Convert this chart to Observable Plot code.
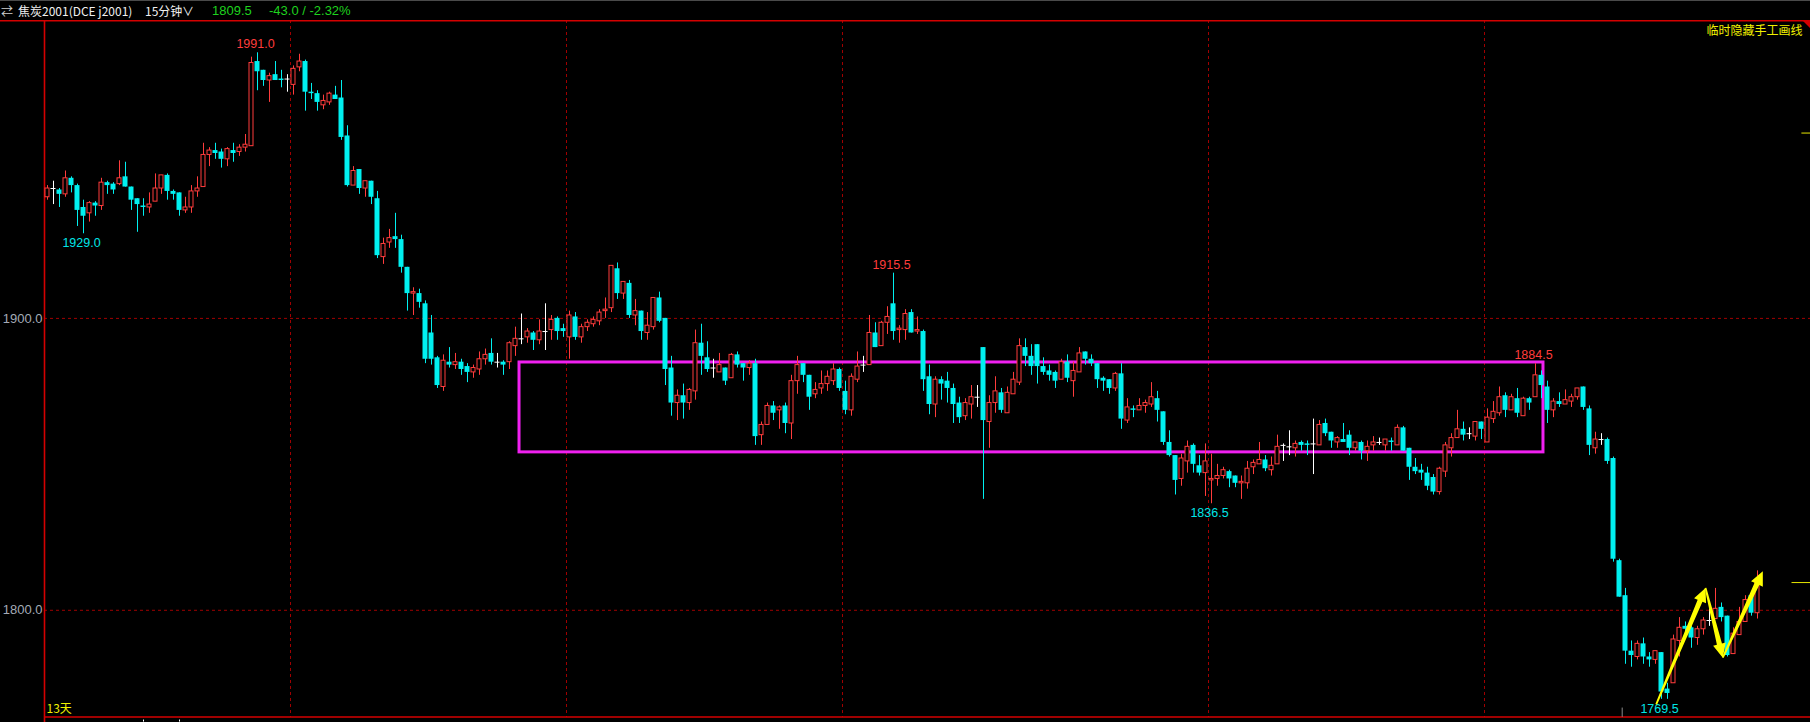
<!DOCTYPE html>
<html><head><meta charset="utf-8">
<script src="https://cdn.jsdelivr.net/npm/d3@7"></script>
<script src="https://cdn.jsdelivr.net/npm/@observablehq/plot@0.6"></script>
<style>
html,body{margin:0;padding:0;background:#000;width:1810px;height:722px;overflow:hidden}
#hdr{position:relative;height:20px;background:#000;box-sizing:border-box;border-top:1px solid #4a4a4a}
#hdr span{position:absolute;top:1px;line-height:16px;white-space:nowrap;color:#f0f0f0;font:12px "Noto Sans CJK SC",sans-serif}
#hdr span.n{font:13px "Liberation Sans",Arial,sans-serif;color:#1ed21e;top:2px}
#chart svg{display:block}
</style></head><body>
<div id="hdr">
<span style="left:1px;color:#cfcfcf">⇄</span>
<span style="left:18px">焦炭2001(DCE j2001)</span>
<span style="left:145px">15分钟</span>
<span style="left:182px">∨</span>
<span class="n" id="last" style="left:212px"></span>
<span class="n" style="left:269px">-43.0 / -2.32%</span>
</div>
<div id="chart"></div>
<script>
// ---- data (15-minute OHLC bars, 焦炭2001) ----
const open = [1941.5,1944.5,1944,1942.5,1948,1945.5,1938,1936,1939.5,1938.5,1946.5,1946,1946,1948.5,1945,1941,1938.5,1938,1940,1944.5,1949,1943.5,1943,1937,1938,1943.5,1945,1956,1957.5,1957,1954.5,1957.5,1957,1958.5,1959,1988,1985,1981.5,1983.5,1982,1982,1980,1986,1988,1977.5,1977,1973,1974,1976.5,1975.5,1962.5,1945.5,1951,1944.5,1947,1941,1921,1926,1928,1927,1917.5,1908.5,1908.5,1905,1895,1886.5,1876.5,1885,1884,1885,1883.5,1881.5,1882.5,1886,1888,1885,1885,1885,1890.5,1893,1893.5,1895,1892.5,1895.5,1896,1900,1896.5,1893.5,1900.5,1893.5,1897,1898,1899,1902.5,1903.5,1917,1908.5,1912,1901,1902.5,1895,1897,1907,1900,1883,1871,1873.5,1871,1875,1891.5,1886.5,1883,1881.5,1883,1879.5,1887.5,1884.5,1883,1884.5,1860,1863.5,1870,1868.5,1870,1864,1878.5,1884.5,1880.5,1874,1876,1877.5,1878.5,1882.5,1875,1868.5,1879,1884,1884,1895,1890.5,1898.5,1905,1896,1896,1902,1895.5,1895.5,1880,1870.5,1879,1878.5,1876,1871,1866.5,1870.5,1873,1890,1864.5,1871,1874.5,1867.5,1874,1878,1890,1887,1891,1883.5,1882,1881.5,1879,1885,1878.5,1881.5,1888.5,1886,1884.5,1879.5,1879,1876,1881,1865,1869,1868.5,1870,1870.5,1872.5,1868,1857.5,1853,1845,1851,1856.5,1849.5,1847,1844.5,1845,1846,1847.5,1846,1843.5,1843.5,1849,1850,1851.5,1848,1850,1856.5,1856,1855.5,1857.5,1857,1857,1856.5,1864,1861,1857.5,1858.5,1860,1855.5,1857.5,1854.5,1856.5,1857.5,1856.5,1858,1856.5,1862.5,1855.5,1849,1848,1847,1845.5,1840.5,1847.5,1855.5,1859,1862,1860.5,1859.5,1864.5,1857.5,1865.5,1867.5,1873.5,1868.5,1872.5,1866.5,1872.5,1873,1880.5,1876.5,1868.5,1871.5,1870.5,1871.5,1873,1876.5,1869,1855.5,1858.5,1858.5,1852,1817,1805,1786,1784,1788.5,1784,1783,1785.5,1773,1775,1789.5,1794.5,1794,1790.5,1793.5,1796.5,1797,1801,1798,1785,1791.5,1796,1805,1799];
const high = [1945.5,1947,1944.5,1950.5,1948.5,1946,1940.5,1940,1940,1948,1947,1946.5,1954,1953.5,1945,1941,1941,1943,1949.5,1949,1949.5,1944,1943,1941.5,1945.5,1948.5,1960,1958.5,1960,1958,1958.5,1960,1959.5,1963,1989.5,1991,1985,1984,1988,1985,1983.5,1986.5,1990.5,1988.5,1980.5,1978,1976.5,1977.5,1979.5,1981.5,1966,1952,1951,1947,1947,1943.5,1927.5,1930.5,1936,1928.5,1917.5,1910.5,1910,1906,1901,1887,1887.5,1890,1888,1886,1884.5,1884,1888.5,1889.5,1893,1888,1885.5,1892,1897,1901.5,1896.5,1895.5,1899.5,1905,1901,1900.5,1898,1902.5,1902,1898,1899.5,1900.5,1903,1907,1918,1919,1912.5,1913,1906.5,1902.5,1902,1907,1909,1900,1887,1875.5,1877.5,1876,1896,1898,1892,1886,1888,1883,1888,1888.5,1884.5,1885.5,1886,1864.5,1871,1871.5,1870,1871,1880.5,1887,1884.5,1880.5,1878,1882,1882,1884.5,1883,1878.5,1881,1888.5,1887,1901,1898.5,1899,1904,1915.5,1897.5,1903,1903,1900.5,1896,1884,1880,1880,1881.5,1877.5,1873,1872.5,1877,1877,1890,1873.5,1880,1876,1876.5,1881.5,1893,1893,1891,1891,1886.5,1884,1882,1886,1887.5,1885,1890,1888.5,1887.5,1884.5,1880,1879,1881.5,1884.5,1872.5,1870,1872.5,1872,1878,1875,1868,1861.5,1853,1853.5,1858,1857,1853,1857,1853.5,1850,1849,1848,1846,1846,1851,1851.5,1857.5,1853,1852.5,1860,1857,1861.5,1858,1858,1858,1865.5,1865,1865.5,1861,1859.5,1864,1861.5,1857.5,1858,1858,1859.5,1859,1858.5,1859,1863.5,1863,1855.5,1852,1850,1849,1846.5,1849,1857.5,1860.5,1868.5,1864.5,1862.5,1864.5,1864.5,1869,1871.5,1876.5,1874.5,1874,1876,1873,1873,1884.5,1882,1878.5,1872.5,1874.5,1875.5,1874,1876,1876.5,1870,1861,1860.5,1859,1852.5,1817.5,1807.5,1789.5,1789.5,1790.5,1785.5,1786,1785.5,1775,1791.5,1797.5,1796,1794.5,1794.5,1797.5,1800.5,1807.5,1802.5,1798,1794,1801,1805,1806,1813.5];
const low = [1940.5,1939,1938,1941.5,1943,1931.5,1929,1933,1935,1937,1942.5,1942.5,1945.5,1945,1937,1929.5,1935,1936,1940,1942.5,1940.5,1940.5,1935,1936,1936,1941.5,1945,1952,1954.5,1951.5,1952,1953.5,1955.5,1957,1959,1978,1979.5,1974,1981.5,1979,1977.5,1976.5,1984.5,1971,1975,1971,1971.5,1973,1975,1961,1945,1945.5,1942.5,1941.5,1939,1920.5,1918.5,1924,1924,1915.5,1902.5,1901,1903.5,1884.5,1884,1876,1875,1883,1882.5,1880.5,1878,1879.5,1880.5,1884,1884,1883,1880.5,1882.5,1887,1891,1891.5,1889,1891,1889,1892.5,1892.5,1893.5,1886,1892.5,1891.5,1895.5,1897,1897.5,1900,1902,1906.5,1906.5,1900,1897.5,1892.5,1892.5,1896,1898.5,1877,1866.5,1865,1865.5,1868.5,1872,1880.5,1881.5,1879.5,1881.5,1877,1879.5,1883,1878.5,1880.5,1856.5,1856.5,1863.5,1865,1862,1860.5,1858.5,1874,1878,1868.5,1872.5,1874,1875,1877,1875,1867,1866.5,1878,1881.5,1884,1890,1890.5,1894.5,1892.5,1891.5,1892.5,1895,1894.5,1875,1867,1866,1872,1871,1864,1864,1865,1865.5,1869.5,1838,1855.5,1867.5,1867.5,1867.5,1874,1877,1883.5,1880.5,1877.5,1880.5,1878.5,1876,1879,1878,1873,1881.5,1884,1883.5,1876,1875,1874,1875,1862,1864,1866,1868.5,1867.5,1869.5,1864.5,1856.5,1852.5,1839.5,1842.5,1847,1847,1846,1839,1836.5,1842.5,1845,1842,1842,1838,1841.5,1846.5,1850,1847.5,1846,1850,1851,1853,1852.5,1854.5,1853,1846.5,1856.5,1859.5,1855.5,1855.5,1857.5,1853,1854.5,1851.5,1851,1854.5,1856.5,1854.5,1854.5,1856.5,1854.5,1844.5,1846.5,1844.5,1841,1839.5,1839.5,1845.5,1852.5,1859,1858,1858.5,1858,1858.5,1857.5,1864,1866.5,1866,1868.5,1866,1866.5,1868.5,1873,1872.5,1864,1866,1869.5,1870.5,1869.5,1872,1868.5,1853,1853.5,1856.5,1850,1816.5,1804.5,1781.5,1780.5,1783,1781.5,1780.5,1781.5,1769.5,1769.5,1775,1784,1791,1787,1788,1791.5,1794.5,1797,1796,1784,1785,1791.5,1796,1798,1797];
const close = [1944.5,1944.5,1942.5,1948,1945.5,1937,1935,1939.5,1938.5,1946.5,1945.5,1944,1948,1945,1940.5,1939,1938,1939,1944.5,1949,1943.5,1942.5,1937,1938,1943.5,1944.5,1956,1957.5,1956.5,1954.5,1958,1956.5,1958.5,1959.5,1987.5,1984.5,1981.5,1983,1981.5,1981.5,1982,1985.5,1988,1977.5,1977,1974,1974.5,1977,1975,1962,1945.5,1950.5,1944.5,1947,1941.5,1921.5,1925.5,1927.5,1927,1917.5,1908.5,1909,1905.5,1886,1886,1877,1885.5,1884,1885,1882.5,1881.5,1883,1886,1887.5,1885,1885,1884,1891.5,1893,1893,1895.5,1892.5,1895.5,1895.5,1899.5,1895.5,1895.5,1901,1893.5,1897,1898.5,1899.5,1902,1903,1918,1908.5,1912.5,1901,1902.5,1895.5,1897.5,1907,1899,1882.5,1871,1873.5,1871,1875.5,1891.5,1887,1882.5,1883,1884,1878.5,1887.5,1884,1883,1884.5,1859.5,1863.5,1870,1867.5,1869.5,1864,1878.5,1884,1880.5,1873,1875.5,1877.5,1880,1882.5,1876,1868.5,1880,1883.5,1884,1895,1890,1898.5,1900.5,1895.5,1896.5,1901.5,1895,1896,1879,1870.5,1879,1877.5,1876,1870.5,1866,1871,1873,1873,1865,1871,1875,1868.5,1874.5,1879,1890.5,1887,1883.5,1883.5,1881.5,1880.5,1878.5,1885,1879.5,1882,1888,1886,1884.5,1879,1878.5,1876,1881,1865.5,1869.5,1868.5,1870,1871,1873,1868.5,1857.5,1853,1844.5,1852,1856,1850,1847,1851,1845,1846,1848,1845,1843.5,1844,1848.5,1850.5,1851.5,1848.5,1849.5,1856,1856.5,1856,1857,1856.5,1856.5,1857,1863.5,1860.5,1858,1859,1857.5,1855.5,1857.5,1854.5,1856,1857.5,1857.5,1858.5,1857.5,1862.5,1854.5,1849,1847.5,1847,1842.5,1840.5,1848.5,1856.5,1859,1862,1860,1860.5,1864.5,1862,1866,1868,1873,1868.5,1873,1867.5,1872.5,1871,1880.5,1877,1868.5,1871.5,1870.5,1872,1873,1876,1869.5,1856.5,1858.5,1858.5,1851,1817.5,1804.5,1786,1784.5,1788.5,1784,1783,1786,1772,1771.5,1790,1794,1793.5,1790.5,1793.5,1796.5,1796.5,1800.5,1797.5,1784.5,1792,1796,1803.5,1799,1809.5];
const yTicks = [1800, 1900];
const dayBreaks = [40.5, 86.5, 132.5, 193.5, 239.5];     // bar positions of the dashed separators
const peakIdx   = [35, 6, 141, 248, 194, 269];            // labelled extremes
const peakKind  = ["high", "low", "high", "high", "low", "low"];
const boxBars   = [78.67, 249.33];                        // hand-drawn box, bar range
const boxPrices = [1854.1, 1884.9];                       // hand-drawn box, price range
const arrowFromBar   = [268.2, 276.42, 279.3];
const arrowFromPrice = [1767.6, 1807.5, 1783.6];
const arrowToBar     = [276.42, 279.3, 285.97];
const arrowToPrice   = [1807.5, 1783.6, 1813.2];
const rightMarkA = [1963.5];
const rightMarkB = [1809.5];
const markerBar = [262.45];
const timeTicks = [16, 22];

document.getElementById("last").textContent = close[close.length - 1].toFixed(1);

const UP = "#ff3c3c", DN = "#00f0f0", FLAT = "#ffffff";
const bars = open.map((o, i) => ({i, o, h: high[i], l: low[i], c: close[i],
  dir: close[i] > o ? 1 : close[i] < o ? -1 : 0}));
const colorOf = d => d.dir > 0 ? UP : d.dir < 0 ? DN : FLAT;
const ups = bars.filter(d => d.dir > 0), dns = bars.filter(d => d.dir < 0), flats = bars.filter(d => d.dir === 0);
const peaks = peakIdx.map((i, k) => ({i, kind: peakKind[k], v: peakKind[k] === "high" ? high[i] : low[i]}));
const peakHighs = peaks.filter(d => d.kind === "high"), peakLows = peaks.filter(d => d.kind === "low");
const arrows = arrowFromBar.map((x, k) => ({x1: x, y1: arrowFromPrice[k], x2: arrowToBar[k], y2: arrowToPrice[k]}));

const frameMark = (index, scales, values, dims) => {
  const {width, height, marginLeft, marginBottom} = dims;
  const g = d3.create("svg:g").attr("stroke", "#d40000").attr("stroke-width", 1.6);
  g.append("line").attr("x1", 0).attr("x2", width).attr("y1", 0.8).attr("y2", 0.8);
  g.append("line").attr("x1", marginLeft + 0.5).attr("x2", marginLeft + 0.5).attr("y1", 0).attr("y2", height);
  g.append("line").attr("x1", marginLeft).attr("x2", width).attr("y1", height - marginBottom).attr("y2", height - marginBottom);
  g.append("path").attr("stroke", "none").attr("fill", "#d40000")
    .attr("d", `M${width - 8},0L${width},0L${width},8Z`);
  return g.node();
};

const arrowMark = (index, scales) => {
  const g = d3.create("svg:g").attr("fill", "#ffff00");
  for (const a of arrows) {
    const x1 = scales.x(a.x1), y1 = scales.y(a.y1), x2 = scales.x(a.x2), y2 = scales.y(a.y2);
    const dx = x2 - x1, dy = y2 - y1, len = Math.hypot(dx, dy);
    const ux = dx / len, uy = dy / len, nx = -uy, ny = ux;
    const hl = 14, hw = 6.5, w0 = 0.9, w1 = 2.6;
    const bx = x2 - ux * hl, by = y2 - uy * hl;
    const pts = [[x1 + nx * w0, y1 + ny * w0], [bx + nx * w1, by + ny * w1], [bx + nx * hw, by + ny * hw], [x2, y2],
                 [bx - nx * hw, by - ny * hw], [bx - nx * w1, by - ny * w1], [x1 - nx * w0, y1 - ny * w0]];
    g.append("polygon").attr("points", pts.map(p => p.join(",")).join(" "));
  }
  return g.node();
};

const chart = Plot.plot({
  width: 1810, height: 702,
  marginLeft: 44, marginRight: 0, marginTop: 0, marginBottom: 5,
  style: {background: "#000", fontFamily: "'Liberation Sans', Arial, sans-serif", overflow: "visible"},
  x: {domain: [-0.5, 293.8333], axis: null},
  y: {domain: [1763.27, 2002.06], axis: null},
  marks: [
    Plot.ruleY(yTicks, {stroke: "#a00000", strokeDasharray: "3,3"}),
    Plot.ruleX(dayBreaks, {stroke: "#a00000", strokeDasharray: "3,3"}),
    Plot.axisY(yTicks, {tickSize: 0, tickPadding: 2, tickFormat: d => d.toFixed(1), color: "#a3abb6", fontSize: 13, label: null}),
    frameMark,
    Plot.rect([0], {x1: boxBars[0], x2: boxBars[1], y1: boxPrices[0], y2: boxPrices[1], fill: "none", stroke: "#f020f0", strokeWidth: 3}),
    Plot.ruleX(bars, {x: "i", y1: "l", y2: "h", stroke: colorOf}),
    Plot.rect(ups, {x1: d => d.i - 2 / 6, x2: d => d.i + 2 / 6, y1: "o", y2: "c", fill: "#000", stroke: UP}),
    Plot.rect(dns, {x1: d => d.i - 2.5 / 6, x2: d => d.i + 2.5 / 6, y1: "o", y2: "c", fill: DN}),
    Plot.ruleY(flats, {x1: d => d.i - 2.5 / 6, x2: d => d.i + 2.5 / 6, y: "o", stroke: FLAT}),
    Plot.text(peakHighs, {x: "i", y: "v", text: d => d.v.toFixed(1), dx: -2, dy: -8.5, fill: UP, fontSize: 12.5}),
    Plot.text(peakLows, {x: "i", y: "v", text: d => d.v.toFixed(1), dx: -2, dy: 9.5, fill: "#00e6e6", fontSize: 12.5}),
    arrowMark,
    Plot.ruleY(rightMarkA, {x1: 292.4, x2: 293.8333, stroke: "#e6e600"}),
    Plot.ruleY(rightMarkB, {x1: 290.75, x2: 293.8333, stroke: "#e6e600"}),
    Plot.ruleX(markerBar, {y1: 1766.5, y2: 1763.3, stroke: "#8a8a8a"}),
    Plot.ruleX(timeTicks, {y1: 1762.4, y2: 1761.7, stroke: "#ffffff"}),
    Plot.text(["临时隐藏手工画线"], {frameAnchor: "top-right", dx: -8, dy: 5.5, lineAnchor: "top", fill: "#f0f000", fontSize: 12, fontFamily: "'Noto Sans CJK SC'"}),
    Plot.text(["13天"], {frameAnchor: "bottom-left", dx: 2, dy: -5, lineAnchor: "bottom", fill: "#f0f000", fontSize: 12, fontFamily: "'Noto Sans CJK SC'"})
  ]
});
document.getElementById("chart").appendChild(chart);
</script>
</body></html>
